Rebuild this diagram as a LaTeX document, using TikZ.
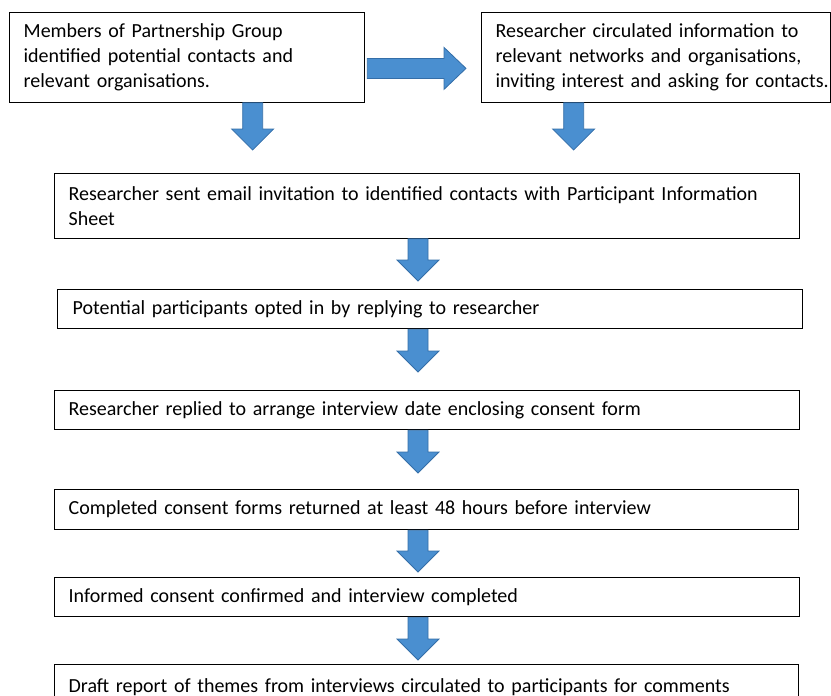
\documentclass[tikz,border=0pt]{standalone}
\usepackage{fontspec}
\setmainfont{Carlito}
\usetikzlibrary{calc}

\definecolor{bleu}{RGB}{74,143,208}
\definecolor{bordbleu}{RGB}{52,110,168}

\begin{document}
\begin{tikzpicture}[x=1pt,y=-1pt,
  boite/.style={draw,line width=1.3pt,rectangle,inner xsep=14pt,inner ysep=0pt,align=left,anchor=north west,font=\fontsize{20}{25}\selectfont},
  descente/.style={draw=bordbleu,fill=bleu,line width=0.8pt,
    to path={let \p1=(\tikztostart), \p2=(\tikztotarget) in
      (\x1-10pt,\y1) -- (\x1-10pt,\y2+21pt) -- (\x1-21pt,\y2+21pt) -- (\x1,\y2)
      -- (\x1+21pt,\y2+21pt) -- (\x1+10pt,\y2+21pt) -- (\x1+10pt,\y1) -- cycle}},
  droite/.style={draw=bordbleu,fill=bleu,line width=0.8pt,
    to path={let \p1=(\tikztostart), \p2=(\tikztotarget) in
      (\x1,\y1+10pt) -- (\x2-22pt,\y1+10pt) -- (\x2-22pt,\y1+21pt) -- (\x2,\y1)
      -- (\x2-22pt,\y1-21pt) -- (\x2-22pt,\y1-10pt) -- (\x1,\y1-10pt) -- cycle}}]
\clip (0,0) rectangle (831,696);

% boites du haut
\node[boite,text width=327pt,minimum height=89.5pt] (membres) at (9,12) {Members of Partnership Group\\identified potential contacts and\\relevant organisations.};
\node[boite,text width=321pt,minimum height=89.5pt] (diffusion) at (481,12) {Researcher circulated information to\\relevant networks and organisations,\\\mbox{inviting interest and asking for contacts.}};

% etapes
\node[boite,text width=717pt,minimum height=64.5pt] (invitation) at (54,173) {Researcher sent email invitation to identified contacts with Participant Information\\Sheet};
\node[boite,inner xsep=15pt,text width=715pt,minimum height=39pt] (optin) at (57,289) {Potential participants opted in by replying to researcher};
\node[boite,text width=717pt,minimum height=39pt] (rdv) at (54,390) {Researcher replied to arrange interview date enclosing consent form};
\node[boite,text width=716pt,minimum height=40pt] (formulaires) at (54,489) {Completed consent forms returned at least 48 hours before interview};
\node[boite,text width=717pt,minimum height=39pt] (entretien) at (54,577) {Informed consent confirmed and interview completed};
\node[boite,text width=716pt,minimum height=45pt] (rapport) at (54,664) {Draft report of themes from interviews circulated to participants for comments};

% fleches
\coordinate (axe) at (418,0);
\draw[droite] ([xshift=2pt,yshift=-11pt]membres.east) to ([xshift=-15pt,yshift=-11pt]diffusion.west);
\draw[descente] ([xshift=65.5pt]membres.south) to ([yshift=23pt]invitation.north);
\draw[descente] ([xshift=-82.5pt]diffusion.south) to ([yshift=23pt]invitation.north);
\draw[descente] (invitation.south -| axe) to ([yshift=8pt]optin.north);
\draw[descente] (optin.south -| axe) to ([yshift=18pt]rdv.north);
\draw[descente] (rdv.south -| axe) to ([yshift=16pt]formulaires.north);
\draw[descente] (formulaires.south -| axe) to ([yshift=5pt]entretien.north);
\draw[descente] (entretien.south -| axe) to ([yshift=4pt]rapport.north);

\end{tikzpicture}
\end{document}
